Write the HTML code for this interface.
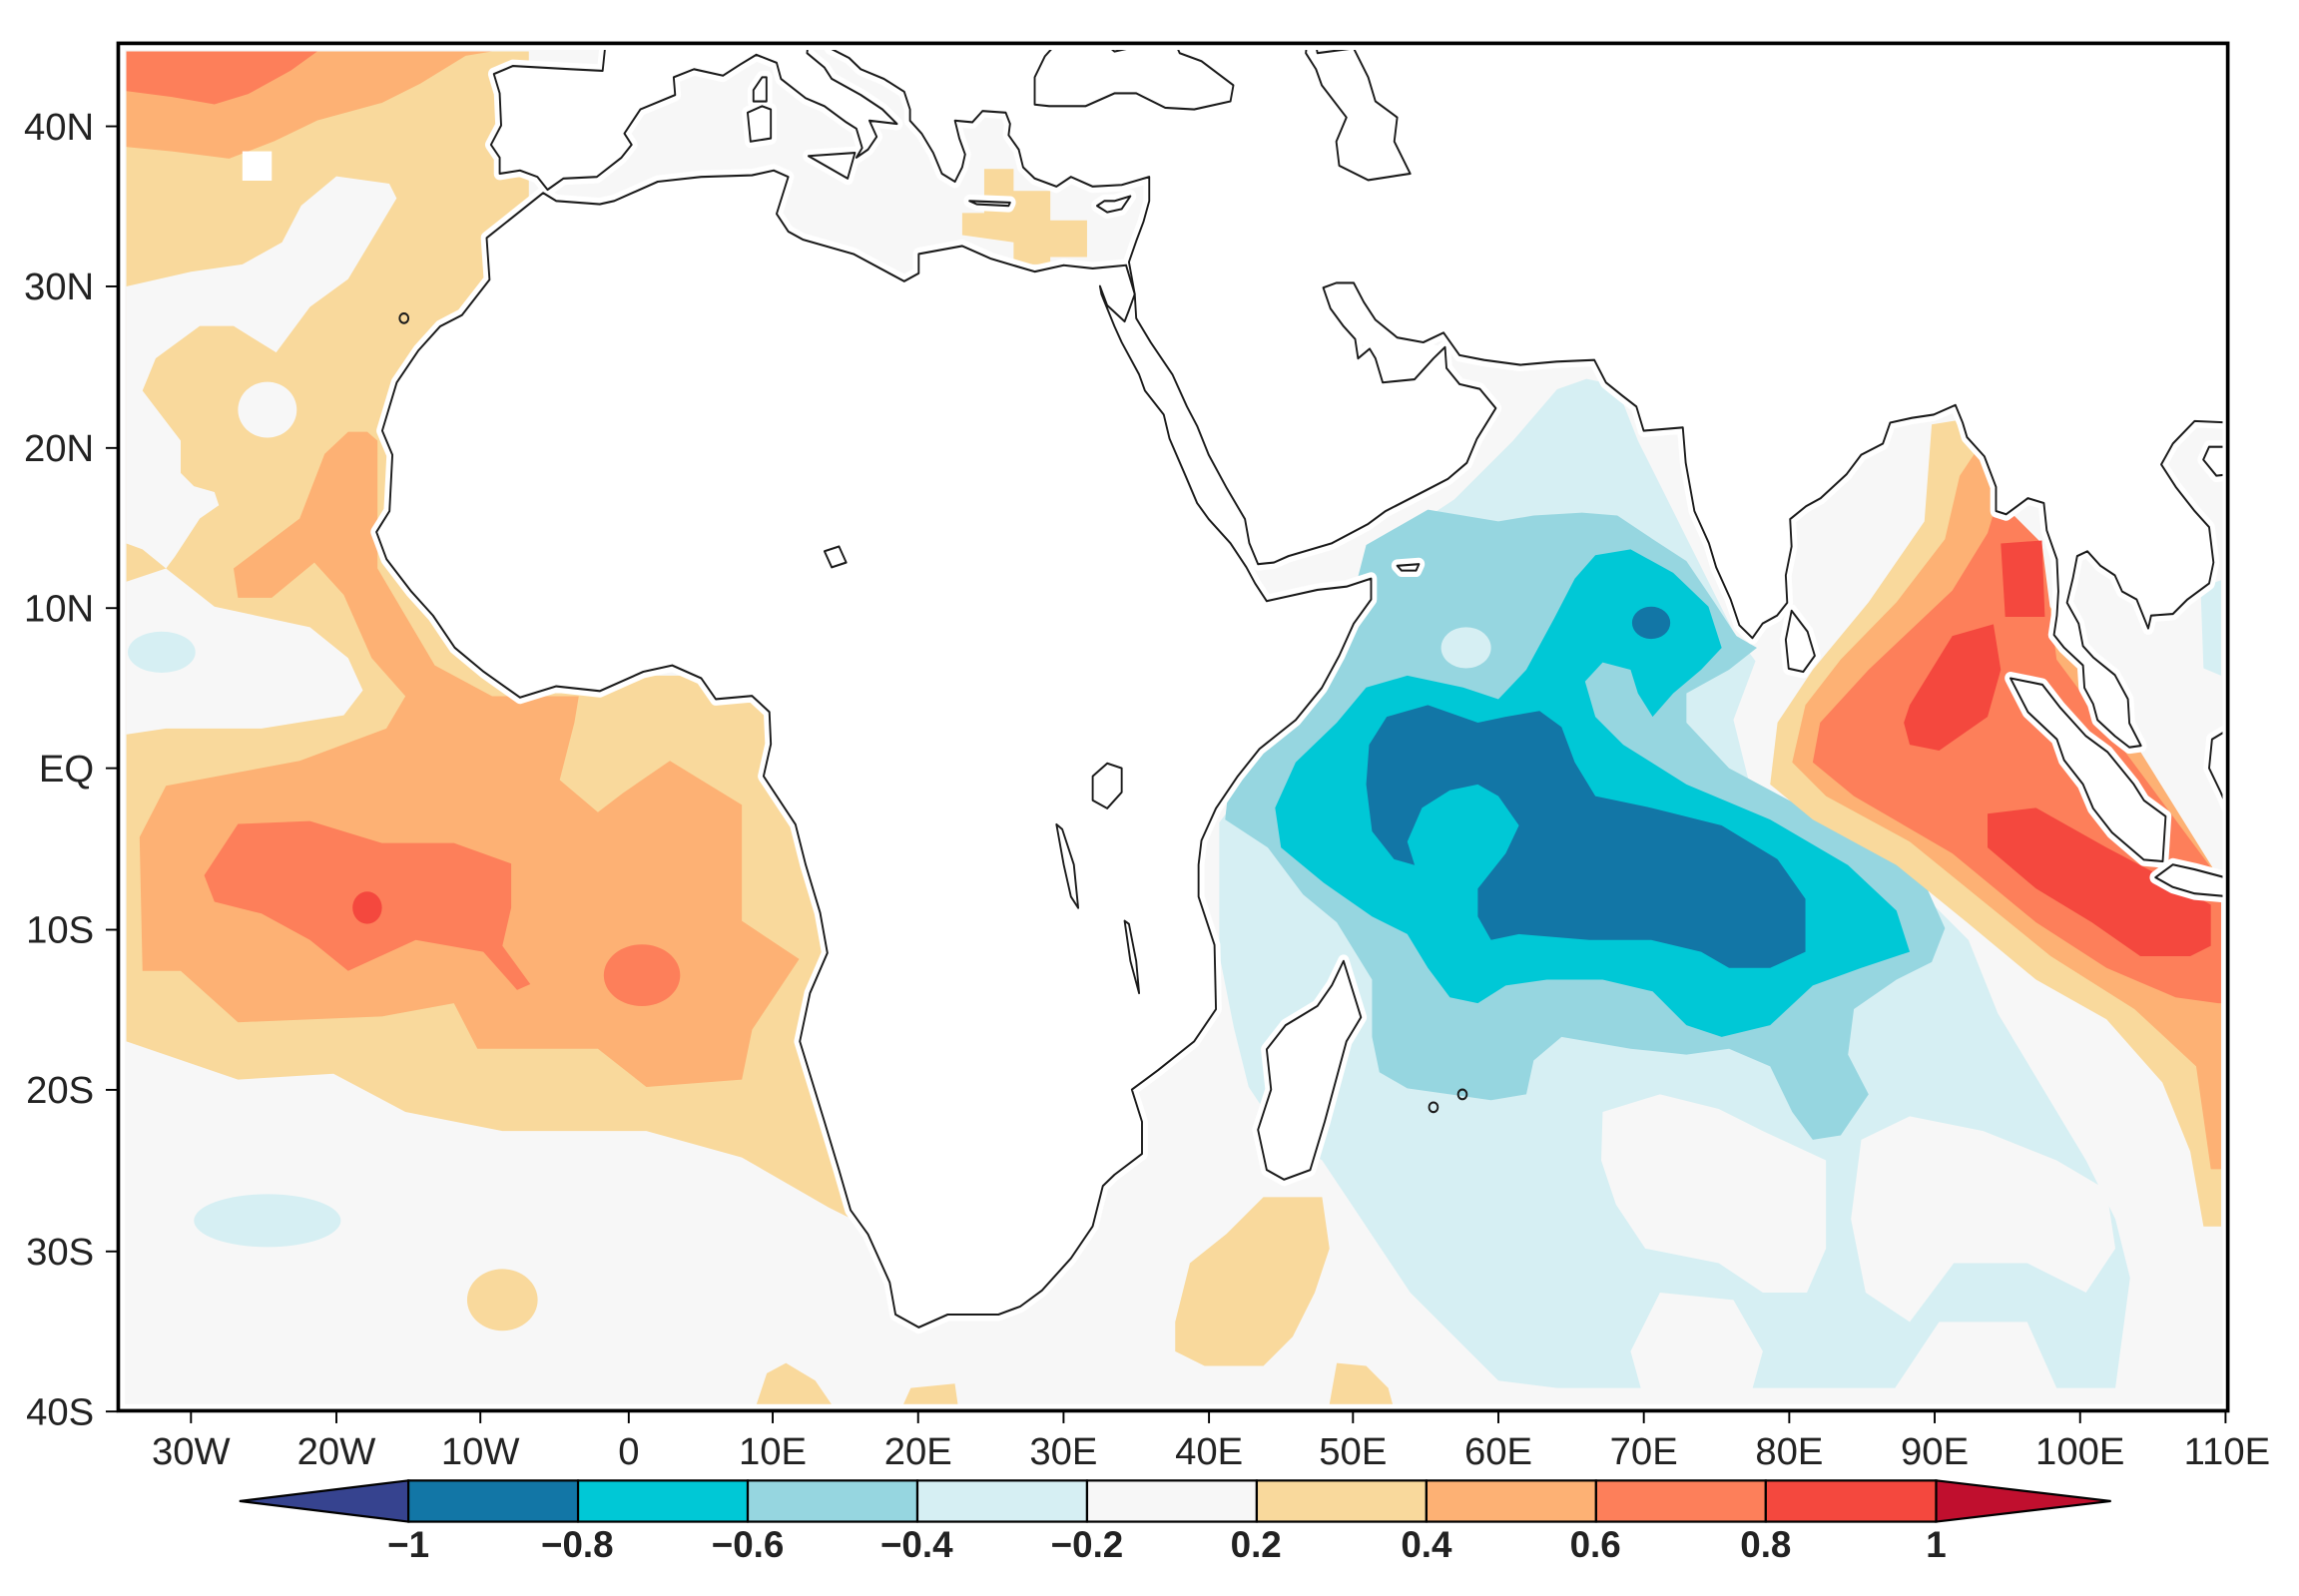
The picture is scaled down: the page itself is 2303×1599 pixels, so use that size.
<!DOCTYPE html>
<html><head><meta charset="utf-8"><style>
html,body{margin:0;padding:0;background:#fff;}
svg{display:block;}
text{font-family:"Liberation Sans",sans-serif;fill:#222;}
</style></head><body>
<svg width="2303" height="1599" viewBox="0 0 1565 1086.6" xmlns="http://www.w3.org/2000/svg">
<defs>
<clipPath id="dc"><rect x="85" y="34" width="1428" height="922"/></clipPath>
<g id="land">
<polygon points="-5.9,35.8 -9.8,33 -9.6,30.4 -11.5,28.2 -13,27.5 -14.5,26 -16,24 -17,21 -16.3,19.5 -16.5,16 -17.4,14.7 -16.7,13 -15,11 -13.5,9.5 -12,7.5 -10,6 -7.5,4.4 -5,5.1 -2,4.8 1,6 3,6.4 5,5.6 6,4.3 8.5,4.5 9.7,3.5 9.8,1.5 9.3,-0.5 11.5,-3.5 12.2,-6 13.2,-9 13.7,-11.5 12.5,-14 11.8,-17 13.5,-22 14.5,-25 15.3,-27.5 16.5,-29 18,-32 18.4,-34 20,-34.8 22,-34 25.5,-34 27,-33.5 28.5,-32.5 30.5,-30.5 32,-28.5 32.7,-26 33.5,-25.3 35.4,-24 35.4,-22 34.7,-20 36.5,-18.8 39,-17 40.5,-15 40.4,-11 39.3,-8 39.3,-6 39.5,-4.5 40.5,-2.5 42,-0.5 43.5,1.2 46,3 47.8,5 49,7 50,9 51.2,10.5 51.2,11.8 49.5,11.3 47.5,11.1 45.5,10.7 44,10.4 43.2,11.5 42.6,12.5 41.5,14 40,15.5 39.2,16.5 38.4,18.2 37.3,20.5 36.9,22 35.6,23.5 35.2,24.5 34,26.5 33.5,27.5 32.6,29.5 32.5,30 33,28.8 34.2,27.8 34.5,28.5 34.9,29.5 34.3,31.3 32,31.1 30,31.3 28,30.9 25,31.7 23,32.5 20,32 20,30.8 19,30.3 15.5,32 12,32.9 11,33.4 10.2,34.5 11,36.8 10,37.2 8.5,36.9 5,36.8 2,36.5 -1,35.3 -2,35.1 -5,35.3"/>
<polygon points="44,-25 45.2,-25.6 47,-25 48,-22 49.5,-17 50.5,-15.5 49.3,-12 48.5,-13.5 47.5,-14.8 45.3,-16 44,-17.5 44.3,-20 43.4,-22.5"/>
<polygon points="34.9,29.5 35,28 36,26.5 37.5,24.5 38.5,22.5 39.2,21.3 40,19.5 41.2,17.5 42.5,15.5 42.8,14 43.4,12.7 44.5,12.8 45.5,13.2 48.5,14 51,15.2 52.2,16 55,17.3 56.5,18 57.8,19 58.5,20.5 59.8,22.4 58.7,23.6 57.3,23.9 56.4,24.9 56.3,26.2 55.5,25.5 54.2,24.2 52,24 51.5,25.5 51.1,26.1 50.3,25.5 50.1,26.7 49.3,27.5 48.4,28.6 47.9,29.9 48.8,30.2 50,30.2 50.7,29 51.5,27.9 53,26.8 54.8,26.5 56.2,27.1 57.3,25.7 59,25.4 61.5,25.1 64,25.3 66.6,25.4 67.4,24 68.5,23.2 69.5,22.5 70,21 72.7,21.2 72.9,19 73.5,16 74.5,14 75,12.5 76,10.5 76.6,8.9 77.5,8.1 78.2,9 79.2,9.5 79.9,10.3 79.8,12 80.2,13.8 80.1,15.5 81.2,16.3 82.2,16.8 84,18.3 85,19.5 86.5,20.2 87,21.5 88.5,21.8 90,22 91.5,22.6 92,21.5 92.3,20.6 93.5,19.4 94.3,17.5 94.3,16 95,15.8 96.5,16.8 97.6,16.5 97.8,14.8 98.5,13 98.6,11 98.5,9.5 98.3,8.3 99,7.5 100.3,6.4 100.4,5 101,4 101.3,3 102.5,2 103.5,1.3 104.3,1.4 103.5,2.8 103.4,4.3 102.5,5.8 101,6.9 100.3,7.6 100,9 99.2,10.3 99.6,11.8 99.9,13.2 100.6,13.5 101.5,12.6 102.5,12 103,11 104,10.5 104.8,8.7 105,9.5 106.5,9.6 107.5,10.5 109,11.5 109.3,12.8 109,15 108,16 106.7,17.5 105.7,18.9 106.5,20.2 108,21.6 110.5,21.5 110.5,47 0,47 -1.5,46 -1.8,43.4 -4,43.5 -8,43.7 -9.3,43.2 -8.9,42 -8.8,40 -9.5,38.8 -8.9,38 -8.9,37 -7.5,37.2 -6.3,36.8 -5.6,36 -4.5,36.7 -2.2,36.8 -0.5,38 0.2,38.8 -0.3,39.5 0.8,41 3.2,41.9 3.1,43 4.5,43.5 6.5,43.1 7.7,43.8 8.8,44.4 10.2,43.9 10.5,42.9 12.2,41.7 13.5,41.2 15,40.2 15.7,39.8 16.1,38.6 15.7,38 16.5,38.5 17.1,39.3 16.6,40.3 18.5,40.1 17.5,41 16,41.9 14,42.9 13.5,43.6 12.3,44.5 12.4,45.4 13.7,45.6 13.9,44.8 15.2,44.2 16,43.5 17.6,42.9 19,42.1 19.4,41 19.4,40.3 20.2,39.5 21,38.3 21.6,37 22.5,36.5 23,37.4 23.2,38.2 22.8,39.2 22.5,40.3 23.7,40.2 24.4,40.9 26,40.8 26.3,40.1 26.2,39.4 26.9,38.5 27.2,37.4 28,36.7 29.5,36.2 30.5,36.8 32,36.2 34,36.3 35.9,36.8 35.9,35.3 35.5,34 35,32.8 34.5,31.5"/>
<polygon points="79.8,8 80,6.2 81,6 81.8,7 81.3,8.5 80.2,9.8"/>
<polygon points="95.3,5.6 97.5,5.2 98.7,3.8 100.5,2 102,1 103.8,-1 104.5,-2 106,-3 105.8,-5.8 104.5,-5.7 102.3,-4 101,-2.5 100.3,-1 99,0.5 98.5,1.8 96.5,3.5"/>
<polygon points="105.3,-6.8 106.5,-6 108,-6.3 110.5,-6.9 110.5,-8 108,-7.8 106.5,-7.4"/>
<polygon points="109.2,1.8 110.5,2.5 110.5,-3 109.8,-1.5 109,0"/>
<polygon points="108.6,19.2 109.5,18.2 110.5,18.3 110.5,20 109,20"/>
<polygon points="12.4,38.1 15.6,38.3 15.1,36.7"/>
<polygon points="8.4,39 9.8,39.2 9.8,41 9.2,41.2 8.2,40.8"/>
<polygon points="8.6,41.5 9.5,41.5 9.5,43 9.2,43 8.6,42.2"/>
<polygon points="23.5,35.3 26.3,35.2 26.2,35.0 24,35.1"/>
<polygon points="32.3,35 33,34.6 34,34.8 34.6,35.6 33.5,35.3 32.8,35.3"/>
<polygon points="53,12.6 54.5,12.7 54.3,12.3 53.3,12.3"/>
</g>
</defs>
<rect x="0" y="0" width="1565" height="1087" fill="#fff"/>
<g clip-path="url(#dc)">
<rect x="85" y="34" width="1428" height="922" fill="#f7f7f7"/>
<polygon fill="#f9d99c" points="86,35 360,35 360,300 300,400 400,460 560,460 580,830 564,822 505,788 440,770 342,770 276,757 227,731 162,735 86,709"/>
<polygon fill="#fdb174" points="86,35 335,35 317,38 286,57 260,70 216,82 187,96 156,108 117,103 86,100"/>
<polygon fill="#fd7f5a" points="86,35 216,35 198,48 169,64 146,71 117,66 86,62"/>
<rect x="165" y="103" width="20" height="20" fill="#fff"/>
<polygon fill="#f7f7f7" points="86,195 130,185 165,180 192,165 205,140 229,120 265,125 270,135 255,160 237,190 211,209 188,240 159,222 136,222 106,244 97,266 110,283 123,300 123,322 132,331 146,335 149,344 136,353 119,379 113,387 97,374 86,370"/>
<polygon fill="#f7f7f7" points="86,396 113,387 146,413 211,427 237,448 247,470 234,487 178,496 113,496 86,500"/>
<ellipse cx="182" cy="279" rx="20" ry="19" fill="#f7f7f7"/>
<ellipse cx="110" cy="444" rx="23" ry="14" fill="#d6eff3"/>
<polygon fill="#fdb174" points="237,294 221,309 204,353 159,387 162,407 185,407 214,383 234,405 253,448 276,474 263,496 204,518 113,535 95,570 97,661 123,661 162,696 260,692 309,683 325,714 407,714 440,740 505,735 512,701 544,653 505,627 505,548 456,518 424,540 407,553 381,531 391,492 394,474 374,474 335,474 296,453 257,387 257,300 250,294"/>
<polygon fill="#fd7f5a" points="139,596 162,561 211,559 260,574 309,574 348,588 348,618 342,644 361,670 352,674 329,648 283,640 237,661 211,640 178,622 146,614"/>
<ellipse cx="250" cy="618" rx="10" ry="11" fill="#f4483e"/>
<ellipse cx="437" cy="664" rx="26" ry="21" fill="#fd7f5a"/>
<ellipse cx="182" cy="831" rx="50" ry="18" fill="#d6eff3"/>
<ellipse cx="342" cy="885" rx="24" ry="21" fill="#f9d99c"/>
<polygon fill="#f9d99c" points="515,956 522,935 535,928 555,940 566,956"/>
<polygon fill="#f9d99c" points="615,956 620,945 650,942 652,956"/>
<polygon fill="#f9d99c" points="905,956 910,928 930,930 945,945 948,956"/>
<polygon fill="#f9d99c" points="800,900 810,860 835,840 860,815 900,815 905,850 895,880 880,910 860,930 820,930 800,920"/>
<polygon fill="#f9d99c" points="655,145 670,145 670,115 690,115 690,130 715,130 715,150 740,150 740,175 715,175 715,180 690,180 690,165 655,160"/>
<rect x="798" y="274" width="9" height="10" fill="#f9d99c"/>
<rect x="818" y="318" width="7" height="9" fill="#f9d99c"/>
<polygon fill="#d6eff3" points="830,560 860,520 880,490 900,460 920,420 930,380 960,360 990,340 1030,300 1060,265 1080,258 1100,262 1115,300 1150,370 1180,430 1195,450 1180,490 1190,530 1240,565 1300,600 1340,640 1360,690 1390,740 1420,790 1440,830 1450,870 1440,945 1400,945 1380,900 1320,900 1290,945 1060,945 1020,940 990,910 960,880 940,850 920,820 900,790 870,770 850,740 840,700 830,650"/>
<polygon fill="#d6eff3" points="1498,400 1512,395 1512,460 1500,455"/>
<polygon fill="#f7f7f7" points="1091,757 1130,745 1170,755 1200,770 1243,790 1243,850 1230,880 1200,880 1170,860 1120,850 1100,820 1090,790"/>
<polygon fill="#f7f7f7" points="1267,776 1300,760 1350,770 1400,790 1434,810 1440,850 1420,880 1380,860 1330,860 1300,900 1270,880 1260,830"/>
<polygon fill="#f7f7f7" points="1130,880 1180,885 1200,920 1190,956 1120,956 1110,920"/>
<polygon fill="#96d6e0" points="930,371 972,347 1020,355 1044,351 1077,349 1101,351 1125,367 1148,382 1167,410 1182,433 1196,441 1177,456 1148,472 1148,492 1177,523 1220,546 1267,570 1310,601 1324,632 1315,655 1291,667 1262,687 1258,718 1272,745 1253,773 1234,776 1220,757 1205,726 1177,714 1148,718 1110,714 1063,706 1044,722 1039,745 1015,749 987,745 958,741 939,730 934,706 934,667 910,628 887,609 863,577 834,558 839,511 863,472 877,456 901,433 920,410"/>
<ellipse cx="998" cy="441" rx="17" ry="14" fill="#d6eff3"/>
<polygon fill="#00c8d6" points="1086,378 1110,374 1139,390 1163,413 1172,441 1158,456 1139,472 1125,488 1115,472 1110,456 1091,451 1079,464 1086,488 1105,507 1148,534 1205,558 1258,589 1291,620 1300,648 1267,659 1234,671 1205,698 1172,706 1148,698 1125,675 1091,667 1053,667 1025,671 1006,683 987,679 972,659 958,636 934,624 901,601 872,577 868,550 882,519 910,492 930,468 958,460 996,468 1020,476 1039,456 1058,421 1072,394"/>
<polygon fill="#1276a6" points="944,488 972,480 1006,492 1025,488 1048,484 1063,495 1072,519 1086,542 1124,550 1172,562 1210,585 1229,612 1229,648 1205,659 1177,659 1158,648 1124,640 1082,640 1034,636 1015,640 1006,624 1006,605 1025,581 1034,562 1020,542 1006,534 987,538 968,550 958,573 963,589 949,585 934,566 930,534 932,507"/>
<ellipse cx="1124" cy="424" rx="13" ry="11" fill="#1276a6"/>
<polygon fill="#f9d99c" points="1315,289 1340,285 1370,360 1380,400 1512,600 1512,835 1500,835 1491,784 1472,737 1434,694 1386,667 1339,628 1291,589 1234,558 1205,534 1210,492 1234,456 1272,410 1310,355"/>
<polygon fill="#fdb174" points="1334,324 1350,300 1375,380 1512,600 1512,796 1505,796 1495,726 1453,687 1396,651 1348,612 1300,573 1243,542 1220,519 1229,480 1253,449 1291,410 1324,367"/>
<polygon fill="#fd7f5a" points="1353,363 1360,340 1390,370 1400,449 1512,600 1512,683 1510,683 1481,679 1434,659 1386,628 1329,581 1262,542 1234,519 1239,492 1272,456 1329,402"/>
<polygon fill="#f4483e" points="1300,480 1329,433 1357,425 1362,456 1353,488 1320,511 1300,507 1296,492"/>
<polygon fill="#f4483e" points="1353,554 1386,550 1434,577 1472,597 1505,616 1505,644 1491,651 1457,651 1424,628 1386,605 1353,577"/>
<polygon fill="#f4483e" points="1362,370 1390,368 1392,420 1365,420"/>
</g>
<g clip-path="url(#dc)">
<g transform="matrix(9.87,0,0,-10.94,428,523)" stroke-linejoin="round">
<g fill="#fff" stroke="#fff" stroke-width="0.8"><use href="#land"/></g>
<g fill="#fff" stroke="none">
<polygon points="32.5,30 34.9,29.5 35,28 38.5,22.5 40,19.5 42.5,15.5 43.4,12.7 42.6,12.5 40,15.5 37.3,20.5 35.6,23.5 33.5,27.5"/>
<polygon points="48,30 50,30.2 51.5,27.9 54.8,26.5 56.3,26.2 54.2,24.2 52,24 51.1,26.1 50,26.7 48.4,28.6"/>
</g>
<g fill="none" stroke="#1a1a1a" stroke-width="0.13"><use href="#land"/>
<polygon points="28,41.3 29,41.2 31.5,41.2 33.5,42 35,42 37,41.1 39,41 41.5,41.5 41.7,42.5 39.5,44 38,44.5 37.5,45.5 36.5,45.3 35.5,45 33.5,44.6 32.5,45.4 33.5,46 31.5,46.6 30.5,46.5 29.7,45.3 28.7,44.3 28,43"/>
<polygon points="47,47 47.5,44.5 50,44.8 51,43 51.5,41.5 53,40.5 52.8,39 53.9,37 51,36.6 49,37.5 48.8,39 49.5,40.5 47.8,42.5 47.4,43.5 46.7,44.5 47,47"/>
<polygon points="32,-0.5 33,0.3 34,0 34,-1.5 33,-2.5 32,-2"/>
<polygon points="13.5,13.5 14.5,13.8 15,12.8 14,12.5"/>
<polygon points="29.5,-3.5 30,-6 30.5,-8 31,-8.7 30.7,-6 29.9,-3.8"/>
<polygon points="34.2,-9.5 34.6,-12 35.2,-14 35,-12 34.5,-9.7"/>
<ellipse cx="55.5" cy="-21.1" rx="0.3" ry="0.3"/>
<ellipse cx="57.5" cy="-20.3" rx="0.3" ry="0.3"/>
<ellipse cx="-15.5" cy="28" rx="0.3" ry="0.3"/>
</g>
</g>
</g>
<rect x="80.5" y="29.5" width="1436" height="931" fill="none" stroke="#000" stroke-width="2.5"/>
<g stroke="#000" stroke-width="1.3">
<line x1="72" y1="86" x2="80" y2="86"/><line x1="72" y1="195" x2="80" y2="195"/><line x1="72" y1="305" x2="80" y2="305"/><line x1="72" y1="414" x2="80" y2="414"/><line x1="72" y1="523" x2="80" y2="523"/><line x1="72" y1="633" x2="80" y2="633"/><line x1="72" y1="742" x2="80" y2="742"/><line x1="72" y1="852" x2="80" y2="852"/><line x1="72" y1="961" x2="80" y2="961"/>
<line x1="130" y1="961" x2="130" y2="969"/><line x1="229" y1="961" x2="229" y2="969"/><line x1="327" y1="961" x2="327" y2="969"/><line x1="428" y1="961" x2="428" y2="969"/><line x1="526" y1="961" x2="526" y2="969"/><line x1="625" y1="961" x2="625" y2="969"/><line x1="724" y1="961" x2="724" y2="969"/><line x1="823" y1="961" x2="823" y2="969"/><line x1="921" y1="961" x2="921" y2="969"/><line x1="1020" y1="961" x2="1020" y2="969"/><line x1="1119" y1="961" x2="1119" y2="969"/><line x1="1218" y1="961" x2="1218" y2="969"/><line x1="1317" y1="961" x2="1317" y2="969"/><line x1="1416" y1="961" x2="1416" y2="969"/><line x1="1515" y1="961" x2="1515" y2="969"/>
</g>
<g font-size="26" text-anchor="end">
<text x="64" y="95">40N</text><text x="64" y="204">30N</text><text x="64" y="314">20N</text><text x="64" y="423">10N</text><text x="64" y="532">EQ</text><text x="64" y="642">10S</text><text x="64" y="751">20S</text><text x="64" y="861">30S</text><text x="64" y="970">40S</text>
</g>
<g font-size="26" text-anchor="middle">
<text x="130" y="997">30W</text><text x="229" y="997">20W</text><text x="327" y="997">10W</text><text x="428" y="997">0</text><text x="526" y="997">10E</text><text x="625" y="997">20E</text><text x="724" y="997">30E</text><text x="823" y="997">40E</text><text x="921" y="997">50E</text><text x="1020" y="997">60E</text><text x="1119" y="997">70E</text><text x="1218" y="997">80E</text><text x="1317" y="997">90E</text><text x="1416" y="997">100E</text><text x="1516" y="997">110E</text>
</g>
<g stroke="#000" stroke-width="1.5">
<polygon points="163,1022 278,1008 278,1036" fill="#36438f"/>
<rect x="278" y="1008" width="115.5" height="28" fill="#1276a6"/>
<rect x="393.5" y="1008" width="115.5" height="28" fill="#00c8d6"/>
<rect x="509" y="1008" width="115.5" height="28" fill="#96d6e0"/>
<rect x="624.5" y="1008" width="115.5" height="28" fill="#d6eff3"/>
<rect x="740" y="1008" width="115.5" height="28" fill="#f7f7f7"/>
<rect x="855.5" y="1008" width="115.5" height="28" fill="#f9d99c"/>
<rect x="971" y="1008" width="115.5" height="28" fill="#fdb174"/>
<rect x="1086.5" y="1008" width="115.5" height="28" fill="#fd7f5a"/>
<rect x="1202" y="1008" width="116" height="28" fill="#f4483e"/>
<polygon points="1318,1008 1437,1022 1318,1036" fill="#c00f2e"/>
</g>
<g font-size="25" font-weight="bold" text-anchor="middle" fill="#111">
<text x="278" y="1060">−1</text><text x="393" y="1060">−0.8</text><text x="509" y="1060">−0.6</text><text x="624" y="1060">−0.4</text><text x="740" y="1060">−0.2</text><text x="855" y="1060">0.2</text><text x="971" y="1060">0.4</text><text x="1086" y="1060">0.6</text><text x="1202" y="1060">0.8</text><text x="1318" y="1060">1</text>
</g>
</svg>
</body></html>
